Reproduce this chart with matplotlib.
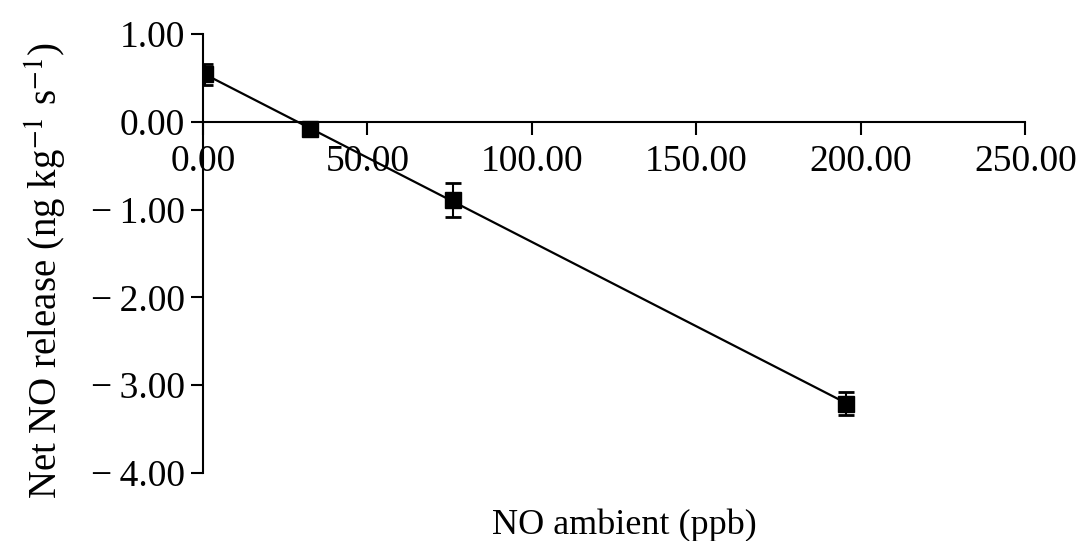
import numpy as np
import matplotlib
matplotlib.use("Agg")
import matplotlib.pyplot as plt

# datos
no_ambiente = [0.5, 32.5, 76.0, 195.5]
no_neto = [0.54, -0.08, -0.89, -3.21]
error = [0.12, 0.05, 0.19, 0.13]

ticks_x = [0, 50, 100, 150, 200, 250]
ticks_y = [1, 0, -1, -2, -3, -4]

plt.rcParams["font.family"] = ["Liberation Serif", "DejaVu Serif"]
plt.rcParams["mathtext.fontset"] = "stix"

fig = plt.figure(figsize=(10.85, 5.41), dpi=100)
ax = fig.add_axes([0.187, 0.126, 0.758, 0.811])

# recta de regresion
b, a = np.polyfit(no_ambiente, no_neto, 1)
xs = np.array([min(no_ambiente), max(no_ambiente)])
ax.plot(xs, a + b * xs, color="black", lw=1.6)

ax.errorbar(no_ambiente, no_neto, yerr=error, fmt="s", color="black",
            markersize=11, capsize=6, elinewidth=1.5, capthick=2)

ax.set_xlim(0, 250)
ax.set_ylim(-4, 1)
ax.set_xticks(ticks_x)
ax.set_yticks(ticks_y)
ax.set_xticklabels([f"{v:.2f}" for v in ticks_x])
ax.set_yticklabels([f"{v:.2f}".replace("-", "\u2212\u2009") for v in ticks_y])

ax.spines["top"].set_visible(False)
ax.spines["right"].set_visible(False)
ax.spines["bottom"].set_position(("data", 0))
ax.spines["bottom"].set_linewidth(1.5)
ax.spines["left"].set_linewidth(1.5)
ax.tick_params(axis="both", labelsize=27, width=1.5, length=9, direction="out")
ax.tick_params(axis="x", pad=7)
ax.tick_params(axis="y", pad=4)

fig.text(0.575, 0.03, "NO ambient (ppb)", fontsize=26, ha="center", va="center")
fig.text(0.042, 0.5, "Net NO release (ng kg$^{-1}$ s$^{-1}$)", fontsize=28,
         rotation=90, ha="center", va="center")

fig.savefig("out.png", dpi=100)
